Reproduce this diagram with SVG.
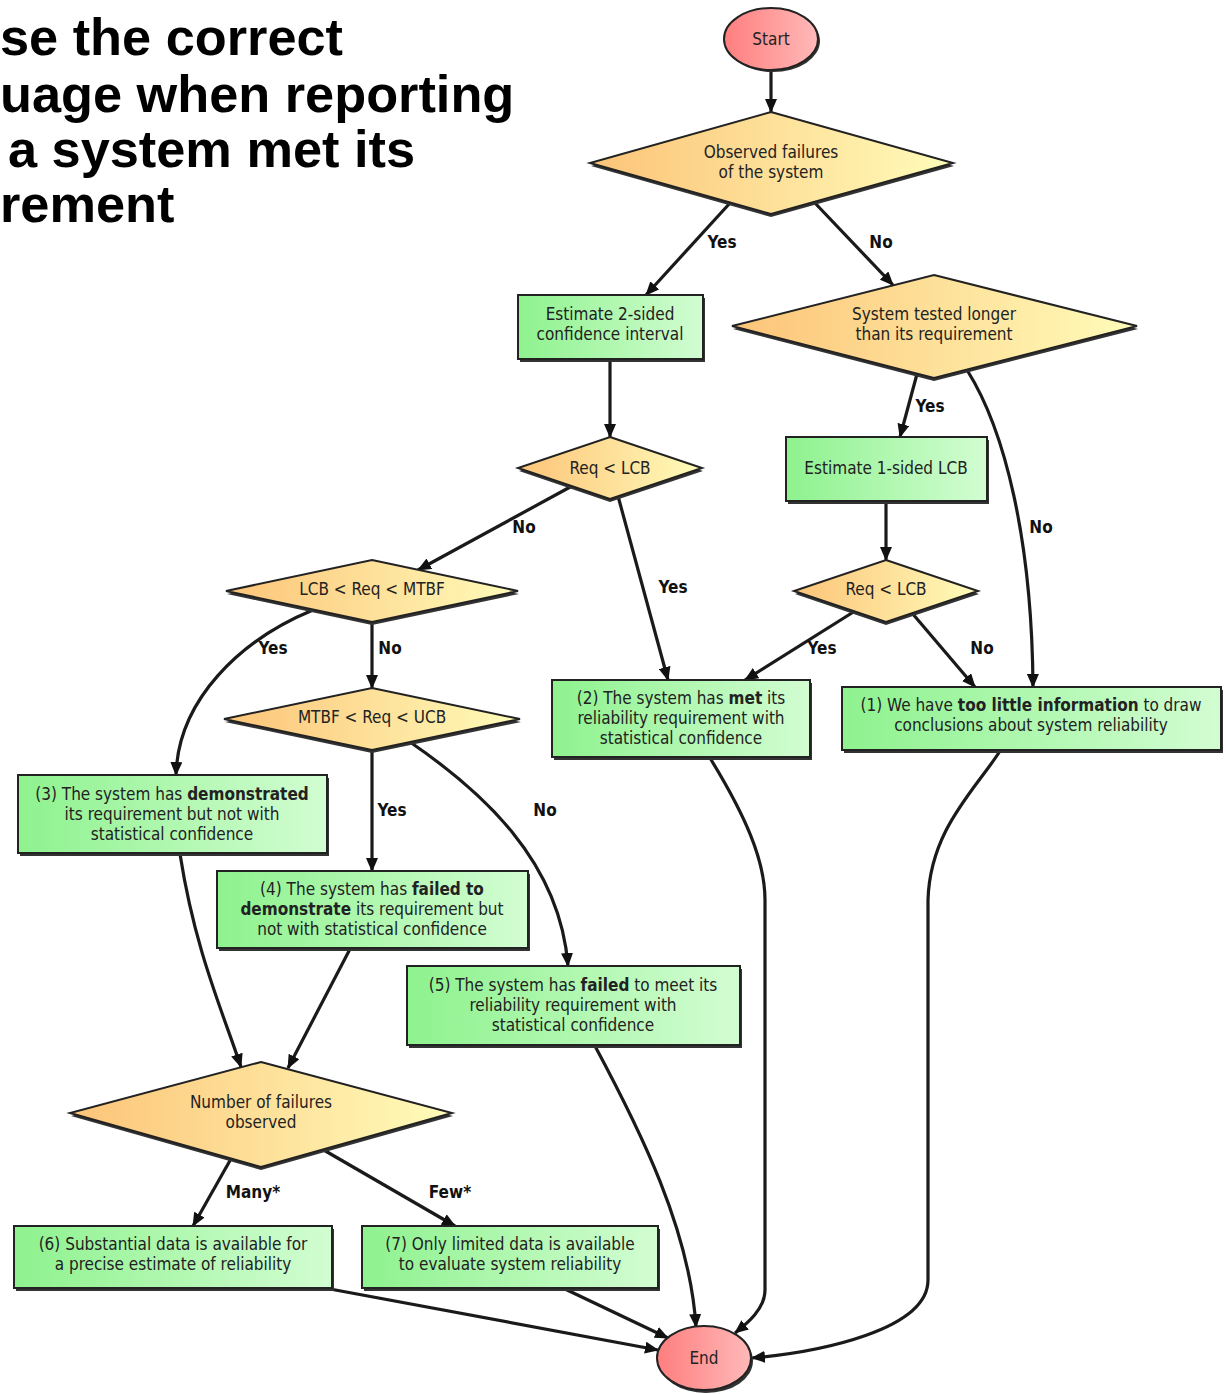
<svg xmlns="http://www.w3.org/2000/svg" width="1226" height="1394" viewBox="0 0 1226 1394">
<style>
.title{font-family:"Liberation Sans",Arial,sans-serif;font-weight:bold;font-size:52.3px;fill:#000}
.t{font-family:"DejaVu Sans Condensed","DejaVu Sans",sans-serif;font-size:17px;fill:#222;text-anchor:middle}
.b{font-weight:bold}
.lbl{font-family:"DejaVu Sans Condensed","DejaVu Sans",sans-serif;font-size:17px;font-weight:bold;fill:#111;text-anchor:middle}
.box{fill:url(#gGreen);stroke:#222;stroke-width:2}
.dia{fill:url(#gYel);stroke:#222;stroke-width:2}
.ell{fill:url(#gRed);stroke:#222;stroke-width:2}
.sh{fill:#333}
.e{fill:none;stroke:#1a1a1a;stroke-width:3.2;marker-end:url(#ah)}
</style>
<defs>
<linearGradient id="gGreen" x1="0" y1="0" x2="1" y2="0"><stop offset="0" stop-color="#8ef28e"/><stop offset="1" stop-color="#d2fdd2"/></linearGradient>
<linearGradient id="gYel" x1="0" y1="0" x2="1" y2="0"><stop offset="0" stop-color="#fcc478"/><stop offset="1" stop-color="#fffcba"/></linearGradient>
<linearGradient id="gRed" x1="0" y1="0" x2="1" y2="0"><stop offset="0" stop-color="#ff7e7e"/><stop offset="1" stop-color="#ffb9b9"/></linearGradient>
<marker id="ah" viewBox="0 0 14 12" refX="13" refY="6" markerWidth="14" markerHeight="12" markerUnits="userSpaceOnUse" orient="auto"><path d="M0,0 L14,6 L0,12 z" fill="#111"/></marker>
</defs>

<g id="title">
<text class="title" x="0" y="55">se the correct</text>
<text class="title" x="0" y="112">uage when reporting</text>
<text class="title" x="8" y="167">a system met its</text>
<text class="title" x="0" y="222">rement</text>
</g>

<g id="connectors">
<path class="e" d="M771,70 L771,112"/>
<path class="e" d="M730,203 L646,295"/>
<path class="e" d="M814,202 L893,285"/>
<path class="e" d="M610,360 L610,437"/>
<path class="e" d="M917,374 L900,437"/>
<path class="e" d="M967,370 C1005,430 1032,540 1033,687"/>
<path class="e" d="M572,486 L418,570"/>
<path class="e" d="M618,496 L668,680"/>
<path class="e" d="M886,502 L886,560"/>
<path class="e" d="M855,611 L745,680"/>
<path class="e" d="M912,613 L975,687"/>
<path class="e" d="M313,610 C240,640 178,700 176,775"/>
<path class="e" d="M372,622 L372,688"/>
<path class="e" d="M372,750 L372,871"/>
<path class="e" d="M410,742 C480,790 560,860 568,966"/>
<path class="e" d="M180,854 C195,950 222,1010 241,1067"/>
<path class="e" d="M350,949 L288,1068"/>
<path class="e" d="M232,1157 L193,1226"/>
<path class="e" d="M322,1149 L455,1226"/>
<path class="e" d="M710,758 C745,815 765,860 765,900 L765,1290 C765,1310 745,1325 735,1333"/>
<path class="e" d="M595,1046 C640,1130 690,1230 696,1327"/>
<path class="e" d="M1000,751 C975,790 930,830 928,900 L928,1280 C928,1330 820,1352 752,1358"/>
<path class="e" d="M330,1289 L658,1350"/>
<path class="e" d="M565,1289 L668,1338"/>
<text class="lbl" x="722" y="248">Yes</text>
<text class="lbl" x="881" y="248">No</text>
<text class="lbl" x="930" y="412">Yes</text>
<text class="lbl" x="524" y="533">No</text>
<text class="lbl" x="673" y="593">Yes</text>
<text class="lbl" x="1041" y="533">No</text>
<text class="lbl" x="273" y="654">Yes</text>
<text class="lbl" x="390" y="654">No</text>
<text class="lbl" x="822" y="654">Yes</text>
<text class="lbl" x="982" y="654">No</text>
<text class="lbl" x="392" y="816">Yes</text>
<text class="lbl" x="545" y="816">No</text>
<text class="lbl" x="253" y="1198">Many*</text>
<text class="lbl" x="450" y="1198">Few*</text>
</g>

<g id="start">
<ellipse class="sh" cx="773" cy="41" rx="47" ry="31"/>
<ellipse class="ell" cx="771" cy="39" rx="47" ry="31"/>
<text class="t" x="771" y="45">Start</text>
</g>

<g id="observed">
<polygon class="sh" points="771,115 954,166 771,217 591,166"/>
<polygon class="dia" points="771,112 953,163 771,214 590,163"/>
<text class="t" x="771" y="158">Observed failures</text>
<text class="t" x="771" y="178">of the system</text>
</g>

<g id="est2">
<rect class="sh" x="520" y="298" width="185" height="64"/>
<rect class="box" x="518" y="295" width="185" height="64"/>
<text class="t" x="610" y="320">Estimate 2-sided</text>
<text class="t" x="610" y="340">confidence interval</text>
</g>

<g id="tested">
<polygon class="sh" points="934,278 1138,329 934,381 733,329"/>
<polygon class="dia" points="934,275 1137,326 934,378 732,326"/>
<text class="t" x="934" y="320">System tested longer</text>
<text class="t" x="934" y="340">than its requirement</text>
</g>

<g id="reqlcb1">
<polygon class="sh" points="610,440 703,471 610,502 519,471"/>
<polygon class="dia" points="610,437 702,468 610,499 518,468"/>
<text class="t" x="610" y="474">Req &lt; LCB</text>
</g>

<g id="est1">
<rect class="sh" x="788" y="440" width="201" height="64"/>
<rect class="box" x="786" y="437" width="201" height="64"/>
<text class="t" x="886" y="474">Estimate 1-sided LCB</text>
</g>

<g id="reqlcb2">
<polygon class="sh" points="886,563 979,594 886,625 795,594"/>
<polygon class="dia" points="886,560 978,591 886,622 794,591"/>
<text class="t" x="886" y="595">Req &lt; LCB</text>
</g>

<g id="lcbreq">
<polygon class="sh" points="372,563 519,594 372,625 227,594"/>
<polygon class="dia" points="372,560 518,591 372,622 226,591"/>
<text class="t" x="372" y="595">LCB &lt; Req &lt; MTBF</text>
</g>

<g id="mtbfreq">
<polygon class="sh" points="372,691 521,722 372,753 225,722"/>
<polygon class="dia" points="372,688 520,719 372,750 224,719"/>
<text class="t" x="372" y="723">MTBF &lt; Req &lt; UCB</text>
</g>

<g id="n2">
<rect class="sh" x="554" y="683" width="258" height="77"/>
<rect class="box" x="552" y="680" width="258" height="77"/>
<text class="t" x="681" y="704">(2) The system has <tspan class="b">met</tspan> its</text>
<text class="t" x="681" y="724">reliability requirement with</text>
<text class="t" x="681" y="744">statistical confidence</text>
</g>

<g id="n1">
<rect class="sh" x="844" y="690" width="379" height="63"/>
<rect class="box" x="842" y="687" width="379" height="63"/>
<text class="t" x="1031" y="711">(1) We have <tspan class="b">too little information</tspan> to draw</text>
<text class="t" x="1031" y="731">conclusions about system reliability</text>
</g>

<g id="n3">
<rect class="sh" x="20" y="778" width="309" height="78"/>
<rect class="box" x="18" y="775" width="309" height="78"/>
<text class="t" x="172" y="800">(3) The system has <tspan class="b">demonstrated</tspan></text>
<text class="t" x="172" y="820">its requirement but not with</text>
<text class="t" x="172" y="840">statistical confidence</text>
</g>

<g id="n4">
<rect class="sh" x="219" y="874" width="311" height="77"/>
<rect class="box" x="217" y="871" width="311" height="77"/>
<text class="t" x="372" y="895">(4) The system has <tspan class="b">failed to</tspan></text>
<text class="t" x="372" y="915"><tspan class="b">demonstrate</tspan> its requirement but</text>
<text class="t" x="372" y="935">not with statistical confidence</text>
</g>

<g id="n5">
<rect class="sh" x="409" y="969" width="333" height="79"/>
<rect class="box" x="407" y="966" width="333" height="79"/>
<text class="t" x="573" y="991">(5) The system has <tspan class="b">failed</tspan> to meet its</text>
<text class="t" x="573" y="1011">reliability requirement with</text>
<text class="t" x="573" y="1031">statistical confidence</text>
</g>

<g id="numfail">
<polygon class="sh" points="261,1065 453,1116 261,1170 71,1116"/>
<polygon class="dia" points="261,1062 452,1113 261,1167 70,1113"/>
<text class="t" x="261" y="1108">Number of failures</text>
<text class="t" x="261" y="1128">observed</text>
</g>

<g id="n6">
<rect class="sh" x="16" y="1229" width="318" height="62"/>
<rect class="box" x="14" y="1226" width="318" height="62"/>
<text class="t" x="173" y="1250">(6) Substantial data is available for</text>
<text class="t" x="173" y="1270">a precise estimate of reliability</text>
</g>

<g id="n7">
<rect class="sh" x="364" y="1229" width="296" height="62"/>
<rect class="box" x="362" y="1226" width="296" height="62"/>
<text class="t" x="510" y="1250">(7) Only limited data is available</text>
<text class="t" x="510" y="1270">to evaluate system reliability</text>
</g>

<g id="end">
<ellipse class="sh" cx="706" cy="1361" rx="47" ry="32"/>
<ellipse class="ell" cx="704" cy="1358" rx="47" ry="32"/>
<text class="t" x="704" y="1364">End</text>
</g>
</svg>
